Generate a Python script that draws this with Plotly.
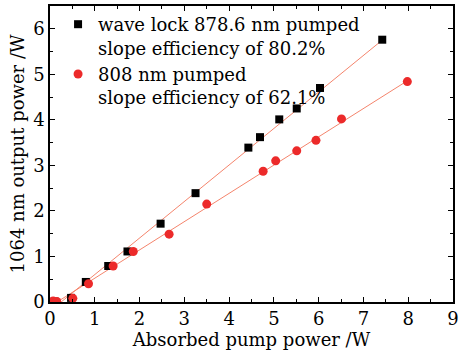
import numpy as np
import plotly.graph_objects as go

# Data
x_878 = [0.10, 0.47, 0.80, 1.30, 1.73, 2.47, 3.25, 4.43, 4.69, 5.12, 5.51, 6.03, 7.42]
y_878 = [0.01, 0.09, 0.44, 0.79, 1.11, 1.72, 2.39, 3.39, 3.62, 4.01, 4.25, 4.70, 5.76]
x_808 = [0.07, 0.15, 0.51, 0.86, 1.41, 1.86, 2.66, 3.50, 4.76, 5.04, 5.51, 5.94, 6.51, 7.98]
y_808 = [0.02, 0.01, 0.08, 0.40, 0.79, 1.11, 1.49, 2.15, 2.87, 3.10, 3.32, 3.55, 4.02, 4.84]

slope_878 = 0.802
slope_808 = 0.621

label_878 = "wave lock 878.6 nm pumped<br>slope efficiency of 80.2%"
label_808 = "808 nm pumped<br>slope efficiency of 62.1%"

def fit_line(xs, ys, slope):
    xs = np.array(xs); ys = np.array(ys)
    m = ys > 0.05
    x0 = np.mean(xs[m] - ys[m] / slope)
    xe = xs.max()
    return [x0, xe], [0.0, slope * (xe - x0)]

font_family = "DejaVu Serif"
line_color = "#f4846c"

fig = go.Figure()
lx, ly = fit_line(x_878, y_878, slope_878)
fig.add_trace(go.Scatter(x=lx, y=ly, mode="lines", line=dict(color=line_color, width=1), showlegend=False, hoverinfo="skip"))
lx, ly = fit_line(x_808, y_808, slope_808)
fig.add_trace(go.Scatter(x=lx, y=ly, mode="lines", line=dict(color=line_color, width=1), showlegend=False, hoverinfo="skip"))

fig.add_trace(go.Scatter(x=x_878, y=y_878, mode="markers", name=label_878,
                         marker=dict(symbol="square", size=8, color="black")))
fig.add_trace(go.Scatter(x=x_808, y=y_808, mode="markers", name=label_808,
                         marker=dict(symbol="circle", size=9, color="#ec2a2a")))

axis_common = dict(
    showgrid=False, zeroline=False, showline=True, linecolor="black", linewidth=1.5,
    mirror="allticks", ticks="inside", ticklen=5, tickwidth=1, tickcolor="black",
    tickfont=dict(family=font_family, size=18, color="black"),
    minor=dict(ticks="inside", ticklen=3, tickcolor="black", dtick=0.5),
)

fig.update_xaxes(range=[0, 9], dtick=1, tick0=0,
                 title=dict(text="Absorbed pump power /W", font=dict(family=font_family, size=18, color="black"), standoff=2),
                 **axis_common)
fig.update_yaxes(range=[0, 6.5], dtick=1, tick0=0,
                 title=dict(text="1064 nm output power /W", font=dict(family=font_family, size=18, color="black"), standoff=4),
                 **axis_common)

fig.update_layout(
    width=472, height=351,
    margin=dict(l=50, r=19, t=4, b=49),
    paper_bgcolor="white", plot_bgcolor="white",
    legend=dict(x=0.02, y=1.0, xanchor="left", yanchor="top", bgcolor="rgba(0,0,0,0)",
                font=dict(family=font_family, size=18, color="black"),
                itemwidth=30, valign="top", tracegroupgap=0),
)

fig.write_html("out.html")
